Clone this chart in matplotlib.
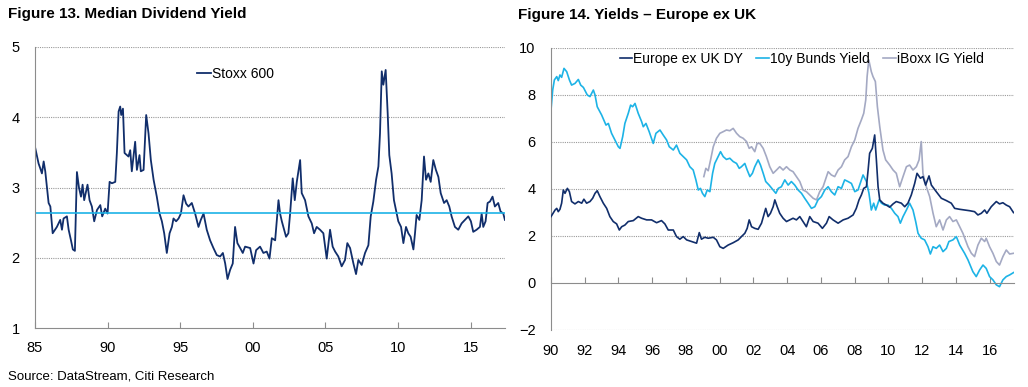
import matplotlib
matplotlib.use('Agg')
import matplotlib.pyplot as plt
from matplotlib import font_manager

# Figure 13 - median dividend yield, Stoxx 600
dy_years = [1985.00, 1985.25, 1985.37, 1985.48, 1985.60, 1985.71, 1985.83, 1985.94, 1986.06, 1986.22,
            1986.51, 1986.74, 1986.86, 1986.97, 1987.20, 1987.32, 1987.48, 1987.61, 1987.75, 1987.89,
            1988.03, 1988.17, 1988.28, 1988.39, 1988.62, 1988.76, 1988.92, 1989.08, 1989.27, 1989.50,
            1989.63, 1989.84, 1990.00, 1990.14, 1990.30, 1990.53, 1990.64, 1990.76, 1990.87, 1990.94,
            1991.06, 1991.17, 1991.44, 1991.56, 1991.67, 1991.90, 1992.02, 1992.20, 1992.29, 1992.48,
            1992.66, 1992.82, 1992.98, 1993.17, 1993.39, 1993.58, 1993.74, 1993.90, 1994.08, 1994.27,
            1994.43, 1994.54, 1994.72, 1994.89, 1995.05, 1995.23, 1995.41, 1995.57, 1995.80, 1996.03,
            1996.26, 1996.42, 1996.61, 1996.83, 1997.06, 1997.29, 1997.52, 1997.75, 1997.94, 1998.10,
            1998.26, 1998.44, 1998.62, 1998.78, 1998.94, 1999.13, 1999.31, 1999.47, 1999.82, 2000.05,
            2000.23, 2000.50, 2000.73, 2000.96, 2001.15, 2001.31, 2001.54, 2001.77, 2001.88, 2002.00,
            2002.29, 2002.45, 2002.57, 2002.75, 2002.89, 2003.03, 2003.26, 2003.37, 2003.60, 2003.83,
            2004.06, 2004.22, 2004.40, 2004.63, 2004.86, 2005.09, 2005.32, 2005.50, 2005.67, 2005.89,
            2006.12, 2006.35, 2006.51, 2006.70, 2006.93, 2007.11, 2007.27, 2007.50, 2007.73, 2007.96,
            2008.12, 2008.30, 2008.49, 2008.65, 2008.76, 2008.88, 2008.99, 2009.15, 2009.29, 2009.40,
            2009.56, 2009.72, 2009.86, 2010.02, 2010.21, 2010.37, 2010.55, 2010.71, 2010.87, 2011.06,
            2011.17, 2011.28, 2011.47, 2011.63, 2011.79, 2011.93, 2012.09, 2012.25, 2012.43, 2012.61,
            2012.78, 2012.94, 2013.17, 2013.35, 2013.53, 2013.69, 2013.92, 2014.15, 2014.38, 2014.61,
            2014.84, 2015.02, 2015.18, 2015.41, 2015.64, 2015.76, 2015.87, 2016.03, 2016.17, 2016.33,
            2016.51, 2016.67, 2016.90, 2017.06, 2017.25, 2017.36]
stoxx600 = [3.58, 3.34, 3.27, 3.20, 3.37, 3.23, 3.00, 2.78, 2.73, 2.35,
            2.44, 2.54, 2.40, 2.56, 2.59, 2.40, 2.25, 2.12, 2.10, 3.22,
            3.00, 2.87, 3.04, 2.82, 3.04, 2.82, 2.73, 2.52, 2.68, 2.75,
            2.59, 2.70, 2.63, 3.08, 3.06, 3.08, 3.49, 4.08, 4.15, 4.03,
            4.12, 3.49, 3.44, 3.53, 3.23, 3.65, 3.25, 3.46, 3.23, 3.25,
            4.03, 3.77, 3.39, 3.11, 2.87, 2.63, 2.52, 2.35, 2.07, 2.35,
            2.44, 2.56, 2.52, 2.56, 2.63, 2.89, 2.77, 2.73, 2.78, 2.63,
            2.44, 2.54, 2.63, 2.40, 2.25, 2.14, 2.04, 2.02, 2.07, 1.92,
            1.70, 1.83, 1.92, 2.44, 2.21, 2.14, 2.07, 2.16, 2.14, 1.92,
            2.11, 2.16, 2.07, 2.09, 1.99, 2.28, 2.25, 2.82, 2.63, 2.52,
            2.30, 2.35, 2.63, 3.13, 2.82, 3.08, 3.39, 2.92, 2.82, 2.59,
            2.49, 2.35, 2.44, 2.40, 2.35, 1.99, 2.40, 2.16, 2.09, 2.02,
            1.88, 1.97, 2.21, 2.14, 1.92, 1.77, 1.97, 1.90, 2.07, 2.18,
            2.59, 2.80, 3.11, 3.30, 3.77, 4.65, 4.46, 4.67, 4.05, 3.46,
            3.20, 2.82, 2.68, 2.52, 2.44, 2.21, 2.44, 2.35, 2.30, 2.12,
            2.35, 2.61, 2.54, 2.82, 3.44, 3.11, 3.20, 3.08, 3.39, 3.25,
            3.15, 2.92, 2.78, 2.82, 2.73, 2.59, 2.44, 2.40, 2.49, 2.54,
            2.59, 2.52, 2.37, 2.40, 2.44, 2.63, 2.44, 2.52, 2.78, 2.80,
            2.87, 2.73, 2.78, 2.66, 2.63, 2.54]
stoxx600_avg = 2.64

# Figure 14 - yields Europe ex UK
eu_years = [1990.00, 1990.24, 1990.34, 1990.43, 1990.53, 1990.63, 1990.73, 1990.83, 1990.97, 1991.09,
            1991.22, 1991.42, 1991.62, 1991.82, 1991.95, 1992.11, 1992.31, 1992.47, 1992.61, 1992.74,
            1992.90, 1993.10, 1993.30, 1993.49, 1993.69, 1993.89, 1994.05, 1994.19, 1994.38, 1994.58,
            1994.88, 1995.17, 1995.37, 1995.67, 1995.96, 1996.26, 1996.55, 1996.75, 1996.95, 1997.25,
            1997.44, 1997.64, 1997.84, 1998.04, 1998.33, 1998.63, 1998.79, 1998.92, 1999.12, 1999.32,
            1999.62, 1999.81, 2000.01, 2000.21, 2000.50, 2000.80, 2001.10, 2001.29, 2001.49, 2001.63,
            2001.75, 2001.89, 2002.08, 2002.28, 2002.48, 2002.73, 2002.87, 2003.01, 2003.17, 2003.27,
            2003.41, 2003.56, 2003.76, 2003.96, 2004.16, 2004.35, 2004.55, 2004.75, 2004.94, 2005.14,
            2005.34, 2005.54, 2005.83, 2006.09, 2006.33, 2006.49, 2006.72, 2007.02, 2007.32, 2007.61,
            2007.91, 2008.10, 2008.26, 2008.40, 2008.54, 2008.70, 2008.80, 2008.89, 2009.05, 2009.19,
            2009.29, 2009.39, 2009.49, 2009.68, 2009.88, 2010.08, 2010.28, 2010.47, 2010.77, 2010.97,
            2011.16, 2011.36, 2011.56, 2011.70, 2011.90, 2012.05, 2012.21, 2012.41, 2012.55, 2012.84,
            2013.14, 2013.44, 2013.73, 2013.93, 2014.23, 2014.52, 2014.82, 2015.11, 2015.31, 2015.51,
            2015.71, 2015.84, 2016.10, 2016.40, 2016.59, 2016.79, 2016.99, 2017.19, 2017.42]
eu_dy = [2.82, 3.10, 3.17, 3.03, 3.13, 3.39, 3.95, 3.81, 4.02, 3.88,
         3.46, 3.36, 3.46, 3.39, 3.56, 3.39, 3.46, 3.60, 3.81, 3.92,
         3.67, 3.39, 3.17, 2.82, 2.61, 2.51, 2.25, 2.39, 2.46, 2.61,
         2.65, 2.82, 2.75, 2.68, 2.68, 2.56, 2.65, 2.51, 2.25, 2.25,
         1.97, 1.86, 1.97, 1.83, 1.76, 1.69, 2.14, 1.86, 1.94, 1.90,
         1.94, 1.83, 1.54, 1.47, 1.61, 1.71, 1.83, 1.97, 2.11, 2.32,
         2.68, 2.39, 2.32, 2.28, 2.54, 3.17, 2.82, 2.96, 3.24, 3.53,
         3.24, 2.96, 2.75, 2.61, 2.68, 2.75, 2.68, 2.82, 2.61, 2.39,
         2.82, 2.61, 2.54, 2.32, 2.54, 2.82, 2.68, 2.54, 2.68, 2.75,
         2.89, 3.17, 3.53, 3.74, 4.02, 4.09, 4.80, 5.51, 5.72, 6.29,
         5.23, 4.09, 3.53, 3.39, 3.31, 3.22, 3.36, 3.46, 3.39, 3.24,
         3.39, 3.74, 4.23, 4.66, 4.45, 4.52, 4.16, 4.55, 4.16, 3.88,
         3.60, 3.50, 3.39, 3.17, 3.13, 3.10, 3.07, 3.03, 2.89, 2.96,
         3.10, 2.96, 3.24, 3.46, 3.36, 3.41, 3.31, 3.24, 2.99]

bund_years = [1990.00, 1990.10, 1990.20, 1990.34, 1990.43, 1990.53, 1990.63, 1990.77, 1990.93, 1991.09,
              1991.22, 1991.42, 1991.62, 1991.76, 1991.92, 1992.15, 1992.31, 1992.51, 1992.61, 1992.74,
              1993.00, 1993.26, 1993.40, 1993.59, 1993.79, 1993.99, 1994.09, 1994.25, 1994.38, 1994.58,
              1994.72, 1994.84, 1994.98, 1995.17, 1995.37, 1995.47, 1995.63, 1995.82, 1996.06, 1996.22,
              1996.46, 1996.65, 1996.85, 1997.01, 1997.25, 1997.44, 1997.64, 1997.84, 1998.04, 1998.23,
              1998.43, 1998.59, 1998.73, 1998.86, 1998.98, 1999.12, 1999.26, 1999.42, 1999.58, 1999.71,
              1999.91, 2000.05, 2000.21, 2000.40, 2000.60, 2000.80, 2001.00, 2001.16, 2001.29, 2001.49,
              2001.63, 2001.79, 2001.94, 2002.08, 2002.28, 2002.42, 2002.58, 2002.73, 2002.93, 2003.17,
              2003.33, 2003.47, 2003.66, 2003.86, 2004.06, 2004.25, 2004.45, 2004.65, 2004.85, 2005.04,
              2005.24, 2005.44, 2005.64, 2005.83, 2006.03, 2006.23, 2006.43, 2006.62, 2006.82, 2007.02,
              2007.22, 2007.41, 2007.61, 2007.81, 2008.01, 2008.20, 2008.50, 2008.70, 2008.85, 2008.99,
              2009.13, 2009.25, 2009.45, 2009.59, 2009.78, 2009.98, 2010.18, 2010.38, 2010.57, 2010.71,
              2010.87, 2011.07, 2011.26, 2011.46, 2011.62, 2011.76, 2011.95, 2012.15, 2012.35, 2012.49,
              2012.65, 2012.84, 2013.04, 2013.24, 2013.44, 2013.59, 2013.83, 2014.03, 2014.23, 2014.52,
              2014.72, 2015.01, 2015.21, 2015.41, 2015.61, 2015.80, 2016.00, 2016.20, 2016.40, 2016.59,
              2016.79, 2016.99, 2017.19, 2017.42]
bund_10y = [7.35, 8.20, 8.63, 8.77, 8.60, 8.84, 8.74, 9.12, 8.98, 8.63,
            8.41, 8.48, 8.65, 8.41, 8.31, 7.99, 7.92, 8.20, 7.99, 7.49,
            7.14, 6.71, 6.78, 6.36, 6.08, 5.79, 5.72, 6.22, 6.78, 7.21,
            7.56, 7.49, 7.63, 7.21, 6.86, 6.64, 6.78, 6.43, 5.93, 6.36,
            6.50, 6.29, 6.08, 5.79, 5.65, 5.86, 5.51, 5.37, 5.23, 4.94,
            4.80, 4.38, 3.95, 4.02, 3.81, 3.67, 3.95, 3.88, 4.66, 5.08,
            5.37, 5.58, 5.37, 5.25, 5.30, 5.16, 5.08, 4.87, 4.94, 5.08,
            4.80, 4.52, 4.66, 4.94, 5.23, 5.01, 4.66, 4.31, 4.16, 3.95,
            3.81, 4.02, 4.09, 4.38, 4.16, 4.31, 4.16, 3.95, 3.81, 3.60,
            3.39, 3.17, 3.24, 3.53, 3.67, 3.95, 4.09, 3.88, 3.74, 4.09,
            4.02, 4.38, 4.31, 4.23, 3.88, 3.95, 4.59, 4.31, 3.81, 3.10,
            3.39, 3.10, 3.53, 3.39, 3.31, 3.31, 3.17, 2.96, 2.82, 2.54,
            2.82, 3.10, 3.39, 3.10, 2.61, 2.11, 1.90, 1.83, 1.54, 1.23,
            1.54, 1.47, 1.61, 1.33, 1.47, 1.76, 1.83, 1.97, 1.61, 1.26,
            0.98, 0.48, 0.27, 0.55, 0.76, 0.62, 0.27, 0.13, -0.08, -0.16,
            0.13, 0.27, 0.34, 0.44]

iboxx_years = [1999.06, 1999.18, 1999.32, 1999.46, 1999.62, 1999.81, 2000.01, 2000.21, 2000.40, 2000.60,
               2000.80, 2001.00, 2001.19, 2001.39, 2001.59, 2001.75, 2001.89, 2002.08, 2002.22, 2002.38,
               2002.58, 2002.77, 2002.97, 2003.17, 2003.37, 2003.56, 2003.76, 2003.96, 2004.16, 2004.35,
               2004.55, 2004.75, 2004.94, 2005.14, 2005.34, 2005.54, 2005.74, 2005.93, 2006.13, 2006.43,
               2006.62, 2006.82, 2007.02, 2007.22, 2007.41, 2007.61, 2007.81, 2008.01, 2008.20, 2008.40,
               2008.54, 2008.66, 2008.74, 2008.84, 2008.99, 2009.09, 2009.23, 2009.35, 2009.49, 2009.68,
               2009.84, 2010.08, 2010.28, 2010.47, 2010.67, 2010.87, 2011.07, 2011.26, 2011.46, 2011.66,
               2011.82, 2011.95, 2012.05, 2012.25, 2012.45, 2012.65, 2012.84, 2013.04, 2013.24, 2013.44,
               2013.63, 2013.83, 2014.03, 2014.23, 2014.42, 2014.72, 2014.92, 2015.11, 2015.31, 2015.51,
               2015.71, 2015.80, 2016.00, 2016.20, 2016.40, 2016.59, 2016.79, 2016.99, 2017.19, 2017.42]
iboxx_ig = [4.52, 4.87, 4.77, 5.23, 5.79, 6.15, 6.36, 6.43, 6.50, 6.47,
            6.57, 6.36, 6.22, 6.15, 6.01, 5.72, 5.79, 5.58, 5.93, 5.93,
            5.72, 5.37, 4.94, 4.66, 4.80, 4.94, 4.80, 4.94, 4.80, 4.73,
            4.52, 4.31, 3.95, 3.88, 3.74, 3.60, 3.53, 3.88, 4.09, 4.73,
            4.59, 4.52, 4.80, 4.94, 5.23, 5.37, 5.79, 6.08, 6.57, 6.93,
            7.21, 7.78, 8.77, 9.48, 8.98, 8.77, 8.56, 7.49, 6.64, 5.65,
            5.23, 5.01, 4.80, 4.66, 4.09, 4.52, 4.94, 5.01, 4.80, 4.94,
            5.23, 6.01, 4.66, 4.09, 3.67, 2.96, 2.39, 2.68, 2.25, 2.68,
            2.82, 2.61, 2.68, 2.39, 2.11, 1.54, 1.26, 1.12, 1.61, 1.90,
            1.76, 1.90, 1.54, 1.26, 0.91, 0.76, 1.12, 1.40, 1.23, 1.26]

navy = '#112e6b'
light_blue = '#1db3e6'
grey = '#a4a9c3'
grid_col = '#9a9a9a'
axis_col = '#8c8c8c'

plt.rcParams['font.family'] = ['Liberation Sans', 'DejaVu Sans']
plt.rcParams['font.size'] = 10

# titles use a condensed face when one is installed
installed = {f.name for f in font_manager.fontManager.ttflist}
if 'Liberation Sans Narrow' in installed:
    title_font, title_size, src_size = 'Liberation Sans Narrow', 12.5, 11
else:
    title_font, title_size, src_size = 'Liberation Sans', 11, 9.5

fig = plt.figure(figsize=(10.28, 3.87), dpi=100)

# Figure 13
ax1 = fig.add_axes([0.034, 0.1517, 0.457, 0.7276])
ax1.plot(dy_years, stoxx600, color=navy, lw=1.3, label='Stoxx 600')
ax1.axhline(stoxx600_avg, color=light_blue, lw=1.2)
ax1.set_xlim(1985, 2017.35)
ax1.set_ylim(1, 5)
ax1.set_yticks([1, 2, 3, 4, 5])
ax1.set_xticks([1985, 1990, 1995, 2000, 2005, 2010, 2015])
ax1.set_xticklabels(['85', '90', '95', '00', '05', '10', '15'])
for y in [2, 3, 4, 5]:
    ax1.axhline(y, color=grid_col, lw=0.8, ls=(0, (1, 1)), zorder=0)
ax1.spines[['top', 'right']].set_visible(False)
ax1.spines[['left', 'bottom']].set_color(axis_col)
ax1.tick_params(axis='y', length=0, pad=11, labelsize=10.5)
ax1.tick_params(axis='x', direction='in', length=4, color=axis_col, pad=9, labelsize=10.5)
ax1.legend(loc='center left', bbox_to_anchor=(0.345, 0.904), frameon=False, borderaxespad=0,
           borderpad=0, handlelength=1.0, handletextpad=0.1, fontsize=10)

# Figure 14
ax2 = fig.add_axes([0.536, 0.1473, 0.4504, 0.7295])
ax2.plot(eu_years, eu_dy, color=navy, lw=1.2, label='Europe ex UK DY', zorder=3)
ax2.plot(bund_years, bund_10y, color=light_blue, lw=1.2, label='10y Bunds Yield', zorder=2)
ax2.plot(iboxx_years, iboxx_ig, color=grey, lw=1.2, label='iBoxx IG Yield', zorder=1)
ax2.set_xlim(1990, 2017.45)
ax2.set_ylim(-2, 10)
ax2.set_yticks([-2, 0, 2, 4, 6, 8, 10])
ax2.set_xticks(list(range(1990, 2017, 2)))
ax2.set_xticklabels(['%02d' % (y % 100) for y in range(1990, 2017, 2)])
for y in [-2, 2, 4, 6, 8, 10]:
    ax2.axhline(y, color=grid_col, lw=0.8, ls=(0, (1, 1)), zorder=0)
ax2.spines[['top', 'right']].set_visible(False)
ax2.spines['left'].set_color(axis_col)
ax2.spines['bottom'].set_position(('data', 0))
ax2.spines['bottom'].set_color(axis_col)
ax2.tick_params(axis='y', length=0, pad=11, labelsize=10.5)
ax2.tick_params(axis='x', direction='in', length=4, color=axis_col, pad=44, labelsize=10.5)
ax2.legend(loc='center left', bbox_to_anchor=(0.148, 0.96), ncol=3, frameon=False, borderaxespad=0,
           borderpad=0, handlelength=0.9, handletextpad=0.05, columnspacing=1.0, fontsize=10)

fig.text(0.008, 0.963, 'Figure 13. Median Dividend Yield', family=title_font, fontsize=title_size,
         fontweight='bold', ha='left', va='center')
fig.text(0.504, 0.961, 'Figure 14. Yields \u2013 Europe ex UK', family=title_font, fontsize=title_size,
         fontweight='bold', ha='left', va='center')
fig.text(0.008, 0.028, 'Source: DataStream, Citi Research', family=title_font, fontsize=src_size,
         ha='left', va='center')

fig.savefig('out.png', dpi=100)
